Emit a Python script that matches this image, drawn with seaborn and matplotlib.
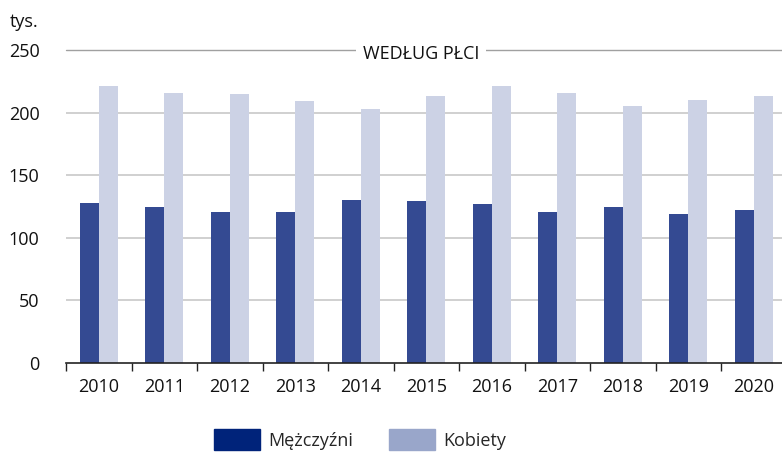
import pandas as pd
import numpy as np
import matplotlib.pyplot as plt
import seaborn as sns
from matplotlib.patches import Patch
from matplotlib.ticker import FixedLocator

# ── data ──────────────────────────────────────
years = ["2010", "2011", "2012", "2013", "2014", "2015",
         "2016", "2017", "2018", "2019", "2020"]
men   = [128, 125, 121, 121, 130, 129, 127, 121, 125, 119, 122]
women = [221, 216, 215, 209, 203, 213, 221, 216, 205, 210, 213]
series = ["Mężczyźni", "Kobiety"]

df = pd.DataFrame({
    "year": years * 2,
    "value": men + women,
    "sex": [series[0]] * len(years) + [series[1]] * len(years),
})

sns.set_theme(style="white")
plt.rcParams["font.family"] = ["Open Sans", "DejaVu Sans"]

fig = plt.figure(figsize=(7.82, 4.53), dpi=100)
ax = fig.add_axes([66 / 782, 90 / 453, 716 / 782, 313 / 453])

bar_cols = ["#344A92", "#CCD2E5"]
sns.barplot(data=df, x="year", y="value", hue="sex", palette=bar_cols,
            width=0.58, ax=ax, saturation=1, linewidth=0)
ax.get_legend().remove()

ax.set_xlim(-0.5, 10.43)
ax.set_ylim(0, 250)
ax.set_yticks([0, 50, 100, 150, 200, 250])
ax.set_xlabel("")
ax.set_ylabel("")

# grid lines
for v in [50, 100, 150, 200]:
    ax.axhline(v, color="#C8C8C8", lw=1.2, zorder=0)
ax.axhline(250, color="#A0A0A0", lw=1.0, zorder=0, clip_on=False)

for s in ["top", "right", "left"]:
    ax.spines[s].set_visible(False)
ax.spines["bottom"].set_color("#222222")
ax.spines["bottom"].set_linewidth(1.2)

ax.tick_params(axis="y", length=0, labelsize=13, pad=19, colors="#111111")
ax.tick_params(axis="x", which="major", length=0, labelsize=13, pad=11, colors="#111111")
ax.xaxis.set_minor_locator(FixedLocator(np.arange(-0.5, 11, 1)))
ax.tick_params(axis="x", which="minor", length=6, width=1, color="#222222", bottom=True)

ax.text(4.92, 247, "WEDŁUG PŁCI", ha="center", va="center", fontsize=13,
        color="#111111", bbox=dict(facecolor="white", edgecolor="none", pad=5))
fig.text(10 / 782, 1 - 22 / 453, "tys.", ha="left", va="center", fontsize=13, color="#111111")

handles = [Patch(color="#00237A"), Patch(color="#99A6CA")]
fig.legend(handles, series, loc="lower center", bbox_to_anchor=(0.46, -0.03), ncol=2,
           frameon=False, fontsize=13, handlelength=2.55, handleheight=1.45,
           columnspacing=2.0, handletextpad=0.45)

fig.savefig("out.png", dpi=100)
